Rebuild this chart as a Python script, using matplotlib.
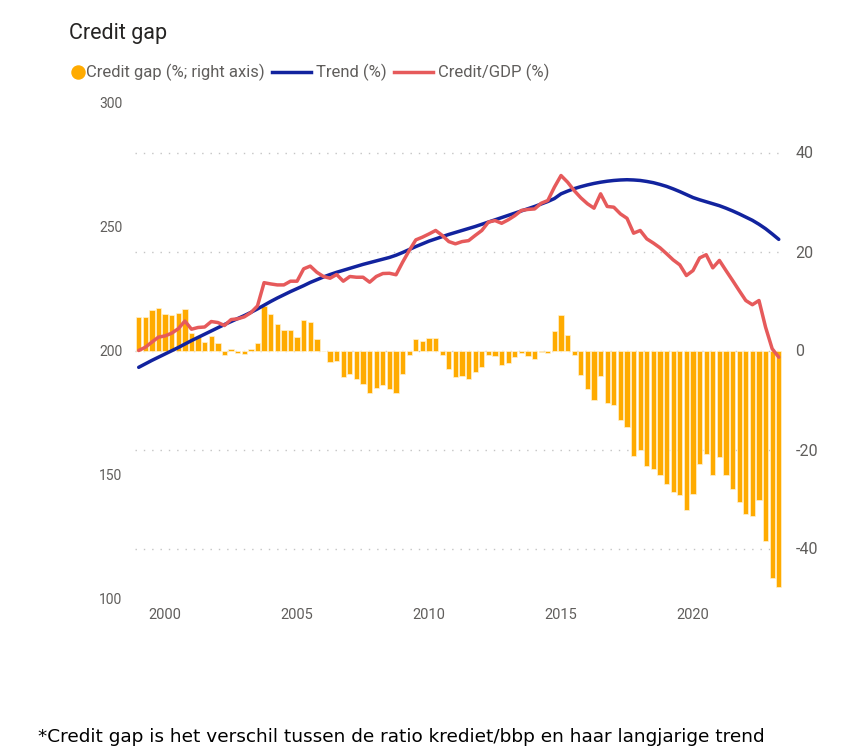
import matplotlib
matplotlib.use('Agg')
import matplotlib.pyplot as plt
from matplotlib.lines import Line2D

plt.rcParams['axes.unicode_minus'] = False

# Quarterly data, 1999Q1 .. 2023Q2
start_year = 1999
credit_gap = [6.7, 6.7, 8.2, 8.5, 7.4, 7.2, 7.6, 8.3, 3.5, 2.8,
              1.8, 3.0, 1.5, -0.9, 0.4, -0.5, -0.8, 0.3, 1.5, 8.9,
              7.3, 5.4, 4.2, 4.2, 2.8, 6.2, 5.7, 2.4, -0.1, -2.4,
              -2.2, -5.3, -4.7, -5.8, -6.7, -8.6, -7.6, -7.0, -7.8, -8.6,
              -4.7, -0.9, 2.3, 2.0, 2.6, 2.6, -0.9, -3.8, -5.4, -5.1,
              -5.7, -4.4, -3.3, -0.9, -1.2, -3.0, -2.5, -1.3, -0.6, -1.2,
              -1.8, -0.3, -0.5, 4.0, 7.1, 3.1, -1.0, -4.9, -7.8, -9.9,
              -5.2, -10.6, -11.0, -14.0, -15.4, -21.3, -20.0, -23.3, -24.0, -25.2,
              -27.0, -28.6, -29.2, -32.3, -28.9, -23.0, -20.9, -25.2, -21.5, -25.2,
              -27.9, -30.6, -33.1, -33.5, -30.2, -38.4, -46.0, -47.8]

trend = [193.2, 194.6, 196.0, 197.3, 198.6, 199.9, 201.2, 202.6, 204.0, 205.3,
         206.6, 207.9, 209.2, 210.5, 211.7, 212.9, 214.1, 215.4, 216.8, 218.3,
         219.8, 221.2, 222.5, 223.8, 225.0, 226.2, 227.5, 228.6, 229.7, 230.7,
         231.6, 232.4, 233.2, 234.0, 234.8, 235.5, 236.2, 236.9, 237.6, 238.5,
         239.6, 240.8, 242.0, 243.1, 244.2, 245.1, 246.0, 246.9, 247.7, 248.5,
         249.3, 250.1, 251.0, 251.9, 252.8, 253.7, 254.6, 255.5, 256.4, 257.3,
         258.2, 259.2, 260.2, 261.4, 263.3, 264.4, 265.4, 266.2, 266.9, 267.5,
         268.0, 268.4, 268.7, 268.9, 269.0, 268.9, 268.7, 268.3, 267.8, 267.1,
         266.3, 265.3, 264.2, 263.0, 261.8, 260.9, 260.1, 259.3, 258.5, 257.5,
         256.4, 255.2, 253.9, 252.6, 251.0, 249.2, 247.1, 244.9]

credit_gdp = [200.0, 201.3, 203.4, 205.4, 205.9, 207.0, 208.8, 211.9, 208.6, 209.3,
              209.5, 211.7, 211.3, 210.1, 212.5, 212.8, 213.6, 215.3, 218.0, 227.4,
              226.9, 226.5, 226.5, 228.0, 228.0, 233.0, 234.1, 231.6, 229.9, 229.2,
              230.7, 228.0, 229.9, 229.6, 229.6, 227.6, 229.9, 231.1, 231.2, 230.6,
              235.7, 240.4, 244.7, 245.8, 247.1, 248.5, 246.5, 244.0, 243.1, 244.0,
              244.4, 246.5, 248.5, 251.9, 252.5, 251.4, 252.8, 254.5, 256.6, 257.0,
              257.2, 259.5, 260.6, 266.0, 270.7, 268.0, 264.6, 261.7, 259.3, 257.5,
              263.3, 258.2, 257.9, 255.2, 253.4, 247.4, 248.5, 245.1, 243.4, 241.5,
              239.1, 236.6, 234.6, 230.3, 232.3, 237.4, 238.7, 233.4, 236.4, 232.3,
              228.3, 224.2, 220.2, 218.5, 220.2, 209.4, 200.7, 197.3]

year_ticks = [2000, 2005, 2010, 2015, 2020]
legend_labels = ['Credit gap (%; right axis)', 'Trend (%)', 'Credit/GDP (%)']

quarters = [start_year + i / 4 for i in range(len(credit_gap))]

ORANGE = '#FFAB00'
BLUE = '#12239E'
RED = '#E65A5B'
GREY = '#605E5C'
W, H = 867, 752

fig = plt.figure(figsize=(W / 100, H / 100), dpi=100)
ax = fig.add_axes([135 / W, 1 - 598 / H, (783 - 135) / W, (598 - 103) / H])
ax2 = ax.twinx()

# bars on the right axis, lines on the left axis drawn on top
ax2.bar(quarters, credit_gap, width=0.2, color=ORANGE, edgecolor='#FFF1D0',
        linewidth=0.5, zorder=2)
ax2.set_ylim(-50, 50)
ax2.set_yticks([-40, -20, 0, 20, 40])
ax2.grid(True, axis='both', color='#C4C4C4', linestyle=(0, (1, 5)), linewidth=1)
ax2.set_axisbelow(True)

ax.plot(quarters, trend, color=BLUE, linewidth=2.5, solid_capstyle='round')
ax.plot(quarters, credit_gdp, color=RED, linewidth=2.5, solid_capstyle='round',
        solid_joinstyle='round')
ax.set_ylim(100, 300)
ax.set_yticks([100, 150, 200, 250, 300])
ax.set_xlim(1998.86, 2023.41)
ax.set_xticks(year_ticks)
ax.set_zorder(ax2.get_zorder() + 1)
ax.patch.set_visible(False)

for a in (ax, ax2):
    for s in a.spines.values():
        s.set_visible(False)
    a.tick_params(length=0, labelcolor=GREY)
ax.tick_params(axis='y', pad=9, labelsize=10)
ax.tick_params(axis='x', pad=7, labelsize=10.5)
ax2.tick_params(axis='y', pad=9, labelsize=11.5)
for lab in ax.get_xticklabels() + ax.get_yticklabels() + ax2.get_yticklabels():
    lab.set_family('Roboto')

fig.text(69 / W, 1 - 33 / H, 'Credit gap', fontsize=15.5, color='#252423',
         family='Roboto', va='center', ha='left')

# legend drawn by hand, positions in pixels
renderer = fig.canvas.get_renderer()
ly = 1 - 72 / H
fig.add_artist(Line2D([77.5 / W], [ly], marker='o', markersize=9.4, color=ORANGE,
                      linestyle='none', transform=fig.transFigure))
x = 86.5
line_colors = [None, BLUE, RED]
for lab, col in zip(legend_labels, line_colors):
    if col is not None:
        x += 7
        fig.add_artist(Line2D([x / W, (x + 39) / W], [ly, ly], color=col,
                              linewidth=2.5, transform=fig.transFigure))
        x += 44
    t = fig.text(x / W, ly, lab, fontsize=12, family='Roboto', color=GREY,
                 va='center', ha='left')
    x += t.get_window_extent(renderer).width

fig.text(38 / W, 1 - 737 / H,
         '*Credit gap is het verschil tussen de ratio krediet/bbp en haar langjarige trend',
         fontsize=13.3, family='DejaVu Sans', color='black', va='center', ha='left')

fig.savefig('out.png', dpi=100)
